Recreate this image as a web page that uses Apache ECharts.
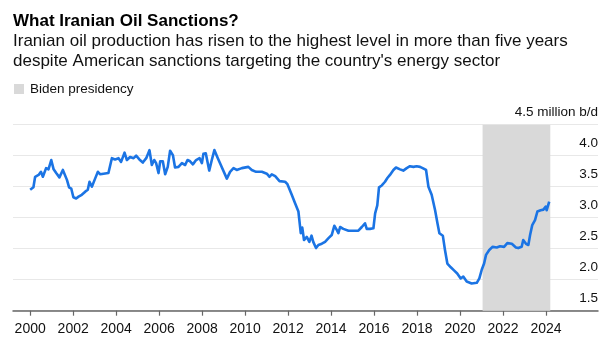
<!DOCTYPE html>
<html>
<head>
<meta charset="utf-8">
<script src="https://cdn.jsdelivr.net/npm/echarts@6/dist/echarts.min.js"></script>
<style>
html,body{margin:0;padding:0;background:#fff;}
#chart{width:615px;height:357px;}
</style>
</head>
<body>
<div id="chart"></div>
<script>
// Year (decimal) of each reading
const years = [
2000.0,2000.15,2000.23,2000.39,2000.5,2000.59,2000.74,2000.85,2000.98,2001.09,2001.21,2001.36,2001.52,2001.6,2001.71,2001.81,2001.91,
2002.01,2002.14,2002.25,2002.4,2002.56,2002.68,2002.76,2002.87,2003.02,2003.15,2003.26,2003.41,2003.64,2003.8,2003.95,
2004.11,2004.23,2004.39,2004.5,2004.65,2004.81,2004.93,2005.08,2005.24,2005.4,2005.55,2005.66,2005.77,2005.86,2005.97,
2006.05,2006.17,2006.28,2006.4,2006.51,2006.64,2006.74,2006.9,2007.06,2007.21,2007.32,2007.44,2007.57,2007.72,2007.88,2007.99,
2008.06,2008.17,2008.33,2008.45,2008.57,2008.73,2008.87,2008.96,2009.15,2009.3,2009.46,2009.61,2009.85,
2010.15,2010.31,2010.51,2010.78,2011.01,2011.13,2011.24,2011.4,2011.6,2011.86,2011.97,
2012.17,2012.33,2012.48,2012.59,2012.66,2012.74,2012.87,2012.99,2013.09,2013.17,2013.3,2013.41,2013.57,2013.72,2013.88,
2014.03,2014.15,2014.27,2014.34,2014.42,2014.57,2014.81,2015.04,2015.27,2015.43,2015.58,2015.66,2015.81,2015.97,
2016.05,2016.15,2016.23,2016.36,2016.51,2016.62,2016.74,2016.9,2017.02,2017.21,2017.36,2017.52,2017.67,2017.83,2017.98,
2018.14,2018.26,2018.42,2018.53,2018.68,2018.84,2018.95,2019.04,2019.2,2019.3,2019.41,2019.57,2019.72,2019.87,
2020.03,2020.15,2020.31,2020.54,2020.78,2020.9,2021.01,2021.12,2021.21,2021.36,2021.52,2021.71,2021.86,
2022.05,2022.2,2022.41,2022.6,2022.71,2022.87,2022.94,2023.07,2023.18,2023.26,2023.36,2023.49,2023.6,2023.75,2023.88,2023.99,
2024.03,2024.15
];
// Iranian oil production, million barrels per day
const production = [
3.45,3.49,3.66,3.69,3.74,3.66,3.80,3.78,3.93,3.78,3.72,3.65,3.77,3.74,3.61,3.49,3.47,
3.33,3.31,3.34,3.37,3.42,3.45,3.58,3.50,3.63,3.74,3.70,3.71,3.72,3.96,3.94,
3.96,3.90,4.05,3.93,3.98,3.96,4.00,3.94,3.89,3.96,4.09,3.85,3.93,3.88,3.72,
3.91,3.91,3.70,3.82,4.08,4.01,3.81,3.82,3.88,3.85,3.93,3.91,3.86,3.93,3.96,3.88,
4.03,4.04,3.76,3.93,4.09,3.96,3.85,3.87,3.63,3.74,3.80,3.77,3.80,
3.82,3.77,3.74,3.74,3.71,3.66,3.70,3.67,3.59,3.58,3.54,
3.37,3.23,3.10,2.75,2.84,2.64,2.69,2.61,2.71,2.61,2.51,2.56,2.58,2.61,2.67,
2.72,2.87,2.80,2.75,2.85,2.82,2.79,2.79,2.79,2.85,2.91,2.82,2.82,2.83,
3.07,3.20,3.49,3.52,3.58,3.64,3.69,3.77,3.81,3.78,3.76,3.80,3.83,3.82,3.83,
3.82,3.80,3.77,3.50,3.37,3.12,2.91,2.75,2.71,2.48,2.26,2.20,2.15,2.10,
2.02,2.05,1.97,1.94,1.95,2.02,2.16,2.26,2.40,2.48,2.53,2.52,2.54,
2.53,2.59,2.58,2.52,2.51,2.53,2.64,2.58,2.56,2.72,2.88,2.96,3.10,3.12,3.13,3.18,
3.12,3.26
];
// Biden presidency span
const bidenStart = 2021.05;
const bidenEnd = 2024.2;
// Tick labels
const xTicks = [2000,2002,2004,2006,2008,2010,2012,2014,2016,2018,2020,2022,2024];
const yUnitLabel = '4.5 million b/d';

const lineData = years.map((y, i) => [y, production[i]]);

const chart = echarts.init(document.getElementById('chart'), null, {renderer: 'canvas'});
const font = "'Liberation Sans', Arial, Helvetica, sans-serif";
chart.setOption({
  animation: false,
  backgroundColor: '#fff',
  textStyle: {fontFamily: font},
  title: {
    left: 13, top: 11, padding: 0, itemGap: 1,
    text: 'What Iranian Oil Sanctions?',
    textStyle: {fontFamily: font, fontSize: 17, fontWeight: 'bold', color: '#000', lineHeight: 20},
    subtext: "Iranian oil production has risen to the highest level in more than five years\ndespite American sanctions targeting the country's energy sector",
    subtextStyle: {fontFamily: font, fontSize: 17, color: '#111', lineHeight: 19.5}
  },
  legend: {
    left: 14, top: 82, padding: 0,
    icon: 'rect', itemWidth: 10, itemHeight: 10, itemGap: 6,
    data: ['Biden presidency'],
    textStyle: {fontFamily: font, fontSize: 13.5, color: '#111', padding: [0,0,0,1]}
  },
  grid: {left: 13, right: 17, top: 124.7, bottom: 46.3, containLabel: false},
  xAxis: {
    type: 'value', min: 1999.2, max: 2026.42,
    splitLine: {show: false},
    axisLine: {show: true, lineStyle: {color: '#666', width: 1.5}},
    axisTick: {show: true, length: 5, customValues: xTicks, lineStyle: {color: '#666', width: 1.2}},
    axisLabel: {customValues: xTicks, margin: 11, fontSize: 14, color: '#111', fontFamily: font,
      formatter: v => String(Math.round(v))}
  },
  yAxis: {
    type: 'value', position: 'right', min: 1.5, max: 4.5, interval: 0.5,
    axisLine: {show: false}, axisTick: {show: false},
    splitLine: {show: true, lineStyle: {color: '#e8e8e8', width: 1.2}},
    axisLabel: {
      inside: true, margin: 0, fontSize: 13.5, color: '#111', fontFamily: font,
      verticalAlign: 'bottom', padding: [0,0,5,0],
      formatter: v => Math.abs(v - 4.5) < 1e-9 ? yUnitLabel : v.toFixed(1)
    }
  },
  series: [
    {
      name: 'Biden presidency', type: 'line', data: [],
      color: '#d9d9d9', itemStyle: {color: '#d9d9d9'},
      markArea: {
        silent: true,
        itemStyle: {color: '#d9d9d9'},
        data: [[{xAxis: bidenStart}, {xAxis: bidenEnd}]]
      }
    },
    {
      name: 'Production', type: 'line', data: lineData,
      showSymbol: false, symbol: 'none', z: 5,
      lineStyle: {color: '#1b74e4', width: 2.6, join: 'round'},
      itemStyle: {color: '#1b74e4'}
    }
  ]
});
</script>
</body>
</html>
